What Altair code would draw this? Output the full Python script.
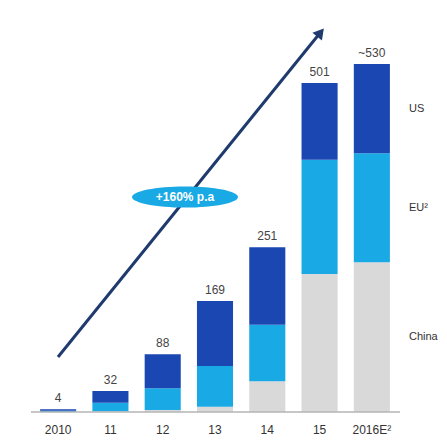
import altair as alt
import pandas as pd

years = ["2010", "11", "12", "13", "14", "15", "2016E²"]
china = [0, 1, 3, 8, 47, 210, 228]
eu = [2, 13, 33, 62, 86, 174, 166]
us = [2, 18, 52, 99, 118, 117, 136]
totals = [4, 32, 88, 169, 251, 501, 530]
total_labels = ["4", "32", "88", "169", "251", "501", "~530"]
regions = ["China", "EU²", "US"]
colors = ["#d9d9d9", "#19a9e5", "#1b47b3"]
growth_label = "+160% p.a"

FONT = "Liberation Sans"
W, H = 366, 394
yscale = alt.Scale(domain=[0, 600])

rows = []
for i, y in enumerate(years):
    for k, (r, v) in enumerate(zip(regions, [china[i], eu[i], us[i]])):
        rows.append({"year": y, "region": r, "value": v, "order": k})
df = pd.DataFrame(rows)

tot_df = pd.DataFrame({"year": years, "total": totals, "label": total_labels})

last = [china[-1], eu[-1], us[-1]]
mids, acc = [], 0
for v in last:
    mids.append(acc + v / 2)
    acc += v
lab_df = pd.DataFrame({"region": regions, "mid": mids})

xenc = alt.X(
    "year:N", sort=years,
    scale=alt.Scale(paddingInner=0.31, paddingOuter=0.155),
    axis=alt.Axis(title=None, domain=False, ticks=False, labelAngle=0,
                  labelPadding=12, labelFontSize=12, labelColor="#333333",
                  labelFont=FONT),
)

bars = alt.Chart(df).mark_bar().encode(
    x=xenc,
    y=alt.Y("value:Q", stack="zero", scale=yscale, axis=None),
    color=alt.Color("region:N", scale=alt.Scale(domain=regions, range=colors), legend=None),
    order=alt.Order("order:Q"),
)

tot_text = alt.Chart(tot_df).mark_text(
    baseline="bottom", dy=-4, fontSize=12, font=FONT, color="#444444"
).encode(
    x=alt.X("year:N", sort=years),
    y=alt.Y("total:Q", scale=yscale),
    text="label:N",
)

right_labels = alt.Chart(lab_df).mark_text(
    align="left", baseline="middle", fontSize=11, font=FONT, color="#333333"
).encode(
    x=alt.value(377),
    y=alt.Y("mid:Q", scale=yscale),
    text="region:N",
)

one = pd.DataFrame({"a": [0]})
baseline = alt.Chart(one).mark_rule(color="#b5b5b5", strokeWidth=1.5).encode(
    x=alt.value(-1), x2=alt.value(368), y=alt.value(H)
)

arrow_line = alt.Chart(one).mark_rule(color="#1f3b6e", strokeWidth=3).encode(
    x=alt.value(26), y=alt.value(339), x2=alt.value(288), y2=alt.value(15)
)
arrow_head = alt.Chart(one).mark_point(
    shape="triangle-up", filled=True, size=150, angle=39, color="#1f3b6e", opacity=1
).encode(x=alt.value(288.5), y=alt.value(14.5))

ellipse = alt.Chart(one).mark_point(
    shape="M -1 0 A 1 0.2 0 1 0 1 0 A 1 0.2 0 1 0 -1 0 Z",
    filled=True, size=11236, color="#19a9e5", opacity=1, strokeWidth=0,
).encode(x=alt.value(153), y=alt.value(179))

ell_text = alt.Chart(one).mark_text(
    color="white", fontWeight="bold", fontSize=12, font=FONT
).encode(x=alt.value(153), y=alt.value(179), text=alt.value(growth_label))

chart = alt.layer(
    bars, baseline, tot_text, right_labels, arrow_line, arrow_head, ellipse, ell_text
).properties(
    width=W, height=H,
    padding={"left": 24, "top": 10, "right": 41, "bottom": 26},
    autosize=alt.AutoSizeParams(type="none"),
).configure_view(stroke=None).configure_axis(grid=False)

chart.save("out.html", embed_options={"renderer": "svg", "actions": False})
